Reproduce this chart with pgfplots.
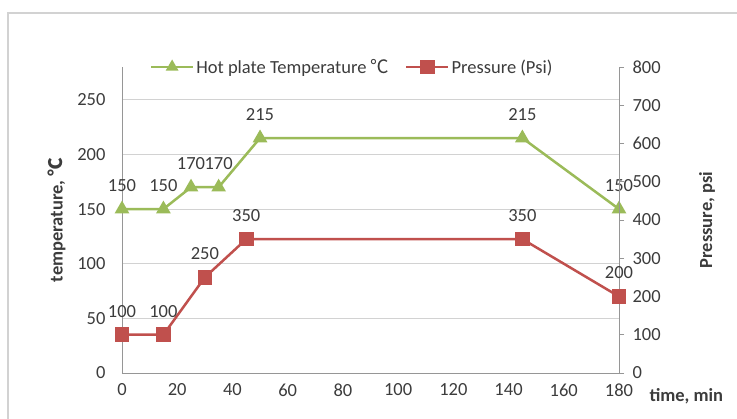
\documentclass[border=0pt]{standalone}
\usepackage{fontspec}
\setmainfont{Carlito}
\newfontfamily\cjk{Noto Sans CJK SC}
\usepackage{pgfplots}
\pgfplotsset{compat=1.18}
\definecolor{tgreen}{RGB}{155,187,89}
\definecolor{pred}{RGB}{192,80,77}
\definecolor{gridc}{RGB}{210,210,210}
\definecolor{axc}{RGB}{150,150,150}
\definecolor{txt}{RGB}{60,60,60}
\newcommand{\fs}{\fontsize{18.5}{21}\selectfont}
\begin{document}
\begin{tikzpicture}[x=1pt,y=1pt]
\useasboundingbox (0,0) rectangle (737,419);
\draw[gray!35, line width=1.5pt] (8,-5) -- (8,406) -- (745,406);
\begin{axis}[
  at={(122pt,46pt)}, anchor=south west,
  scale only axis, width=497pt, height=306pt,
  xmin=0, xmax=180, ymin=0, ymax=280,
  xtick={0,20,...,180}, ytick={0,50,...,250},
  axis y line*=left, axis x line*=bottom,
  axis line style={axc, line width=0.9pt, -},
  ymajorgrids, grid style={gridc, line width=0.9pt},
  major tick length=0pt,
  clip=false,
  tick label style={font=\fs, text=txt},
  /pgf/number format/assume math mode=true,
  yticklabel style={xshift=-13pt},
  xticklabel style={yshift=-7pt},
  ylabel={temperature, {\cjk ℃}},
  ylabel style={at={(axis description cs:-0.131,0.5)}, anchor=center, font=\fs\bfseries, text=txt},
  xlabel={time, min},
  xlabel style={at={(axis description cs:1,0)}, anchor=west, xshift=27pt, yshift=-23pt, font=\fs\bfseries, text=txt},
  nodes near coords,
  every node near coord/.append style={font=\fs, text=txt, yshift=13pt},
]
\addplot[tgreen, line width=2.5pt, mark=triangle*, mark size=6pt, mark options={solid}] coordinates {
  (0,150) (15,150) (25,170) (35,170) (50,215) (145,215) (180,150)
};
\end{axis}
\begin{axis}[
  at={(122pt,46pt)}, anchor=south west,
  scale only axis, width=497pt, height=306pt,
  xmin=0, xmax=180, ymin=0, ymax=800,
  ytick={0,100,...,800},
  axis y line*=right, axis x line=none,
  axis line style={axc, line width=0.9pt, -},
  major tick length=5pt, tick align=outside, tick style={axc, line width=0.9pt},
  clip=false,
  tick label style={font=\fs, text=txt},
  /pgf/number format/assume math mode=true,
  yticklabel style={xshift=5pt},
  ylabel={Pressure, psi},
  ylabel style={at={(axis description cs:1.177,0.5)}, anchor=center, rotate=0, font=\fs\bfseries, text=txt},
  nodes near coords,
  every node near coord/.append style={font=\fs, text=txt, yshift=13pt},
  legend style={at={(axis description cs:0.463,1)}, anchor=center, draw=none, fill=none,
    legend columns=2, font=\fs, text=txt,
    /tikz/every even column/.append style={column sep=14pt}},
  legend cell align=left,
  legend image code/.code={\draw[mark repeat=2, mark phase=2] plot coordinates {(0pt,0pt) (21pt,0pt) (42pt,0pt)};},
]
\addlegendimage{tgreen, line width=2.5pt, mark=triangle*, mark size=5pt}
\addlegendentry{Hot plate Temperature {\cjk ℃}}
\addplot[pred, line width=2.5pt, mark=square*, mark size=6pt, mark options={solid}] coordinates {
  (0,100) (15,100) (30,250) (45,350) (145,350) (180,200)
};
\addlegendentry{Pressure (Psi)}
\end{axis}
\end{tikzpicture}
\end{document}
